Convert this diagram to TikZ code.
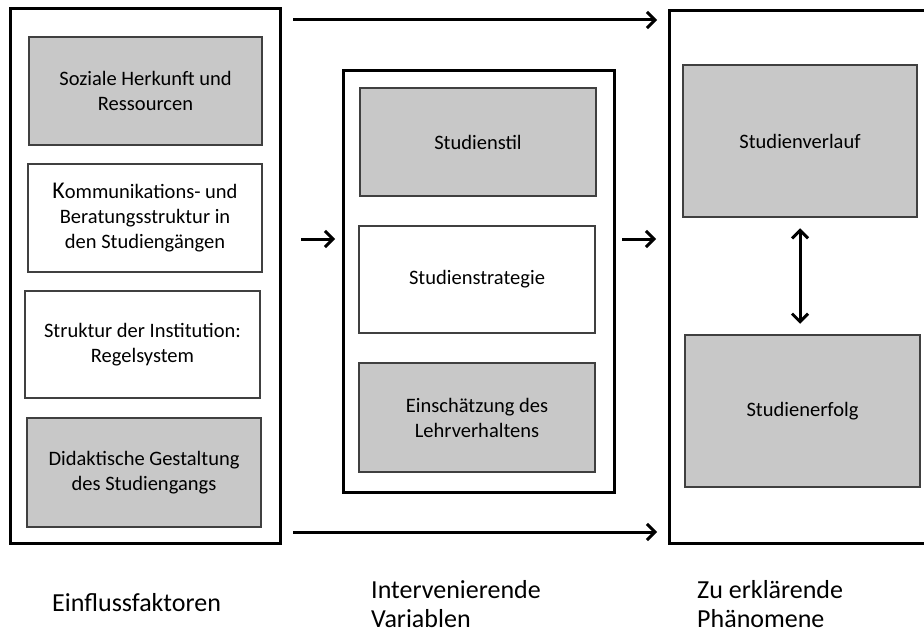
\documentclass[tikz,border=0pt]{standalone}
\usepackage{fontspec}
\setmainfont{Carlito}
\usetikzlibrary{arrows.meta}
\definecolor{boxgray}{HTML}{C8C8C8}
\definecolor{edgegray}{HTML}{404040}
\tikzset{
  outerbox/.style={draw=black, line width=3pt, fill=white},
  innerbox/.style={draw=edgegray, line width=2.5pt, align=center, inner sep=0pt,
    font=\fontsize{20.5}{25}\selectfont},
  graybox/.style={innerbox, fill=boxgray},
  whitebox/.style={innerbox, fill=white},
  barb/.tip={Straight Barb[length=8pt,width=16pt,line width=3pt]},
  arr/.style={line width=3pt, -barb},
  darr/.style={line width=3pt, barb-barb},
  caption/.style={align=left, anchor=west, inner sep=0pt, font=\fontsize{26}{29}\selectfont}
}
\begin{document}
\begin{tikzpicture}[x=1pt,y=-1pt]
\useasboundingbox (0,0) rectangle (924,634);
% outer boxes
\node[outerbox, minimum width=270pt, minimum height=534pt] (L) at (145,276) {};
\node[outerbox, minimum width=271pt, minimum height=421pt] (M) at (478.5,281.5) {};
\node[outerbox, minimum width=264pt, minimum height=532pt] (R) at (801,277) {};
% left column
\node[graybox, minimum width=233pt, minimum height=108pt] (soz) at (145.5,91) {Soziale Herkunft und\\Ressourcen};
\node[whitebox, minimum width=234pt, minimum height=108pt] (kom) at (145,218) {{\fontsize{24}{25}\selectfont K}ommunikations- und\\Beratungsstruktur in\\den Studiengängen};
\node[whitebox, minimum width=235pt, minimum height=107pt] (str) at (142.5,344.5) {Struktur der Institution:\\Regelsystem};
\node[graybox, minimum width=234pt, minimum height=109pt] (did) at (144,472.5) {Didaktische Gestaltung\\des Studiengangs};
% middle column
\node[graybox, minimum width=236pt, minimum height=108pt] (stil) at (478,142) {Studienstil};
\node[whitebox, minimum width=236pt, minimum height=107pt] (strat) at (477,279.5) {Studienstrategie};
\node[graybox, minimum width=236pt, minimum height=109pt] (ein) at (477,417.5) {Einschätzung des\\Lehrverhaltens};
% right column
\node[graybox, minimum width=234pt, minimum height=152pt] (verl) at (800,141) {Studienverlauf};
\node[graybox, minimum width=235pt, minimum height=152pt] (erf) at (802.5,411) {Studienerfolg};
% arrow end points
\coordinate (t1) at (293,20);
\coordinate (t2) at (657,20);
\coordinate (b1) at (293,532);
\coordinate (b2) at (657,532);
\coordinate (m1) at (301,239);
\coordinate (m2) at (335,239);
\coordinate (m3) at (622,239);
\coordinate (m4) at (656,239);
\draw[arr] (t1) -- (t2);
\draw[arr] (b1) -- (b2);
\draw[arr] (m1) -- (m2);
\draw[arr] (m3) -- (m4);
\draw[darr, shorten <=10pt, shorten >=10pt] (verl.south) -- (verl.south |- erf.north);
% captions
\node[caption] (c1) at (52,603) {Einflussfaktoren};
\node[caption] (c2) at (371,604) {Intervenierende\\Variablen};
\node[caption] (c3) at (697,604) {Zu erklärende\\Phänomene};
\end{tikzpicture}
\end{document}
